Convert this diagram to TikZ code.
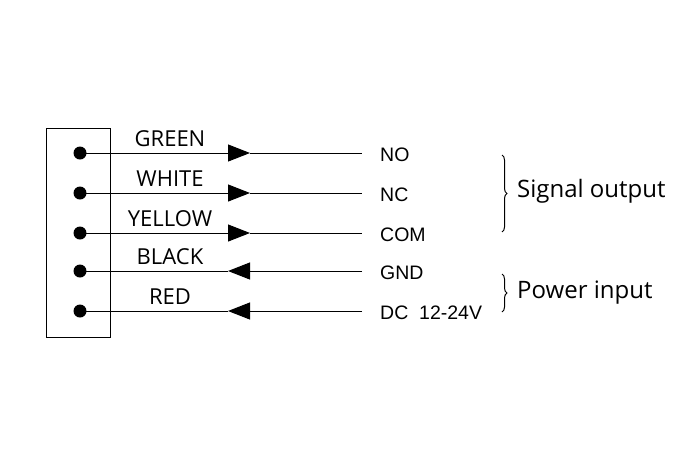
\documentclass[tikz,border=0pt]{standalone}
\usepackage{fontspec}
\setmainfont{Liberation Sans}
\newfontfamily\wirefont{Open Sans}
\usetikzlibrary{arrows.meta,decorations.pathreplacing}
\tikzset{
  pin/.style={circle,fill=black,inner sep=0pt,minimum size=13pt},
  wire/.style={line width=1pt},
  tip/.style={-{Triangle[length=22pt,width=17pt]}},
  colname/.style={font=\wirefont\fontsize{22}{22}\selectfont,anchor=base,inner sep=0pt},
  signame/.style={font=\fontsize{19.5}{19.5}\selectfont,anchor=west,inner sep=0pt},
  groupname/.style={font=\wirefont\fontsize{24}{24}\selectfont,anchor=west,inner sep=0pt}
}
\begin{document}
\begin{tikzpicture}[x=1pt,y=-1pt]
  \useasboundingbox (0,0) rectangle (700,467);
  % housing
  \draw[line width=1pt] (46,128) rectangle (110,337);
  % pins and wires
  \foreach \i/\y/\col/\sig in {1/153/GREEN/NO, 2/193/WHITE/NC, 3/233/YELLOW/COM, 4/271/BLACK/GND, 5/311/RED/{DC\ \ 12-24V}} {
    \node[pin] (p\i) at (80,\y) {};
    \coordinate (m\i) at (250,\y);
    \coordinate (n\i) at (228,\y);
    \coordinate (e\i) at (362,\y);
    \node[signame] (s\i) at (380,\y+2) {\sig};
    \node[colname] (c\i) at (170,\y-7) {\col};
  }
  \foreach \i in {1,2,3} {
    \draw[wire,tip] (p\i.center) -- (m\i);
    \draw[wire] (m\i) -- (e\i);
  }
  \foreach \i in {4,5} {
    \draw[wire,tip] (e\i) -- (n\i);
    \draw[wire] (n\i) -- (p\i.center);
  }
  % groups
  \draw[line width=1pt,decorate,decoration={brace,amplitude=5pt}] (502,155) -- (502,232);
  \node[groupname] (sigout) at (517,191) {Signal output};
  \draw[line width=1pt,decorate,decoration={brace,amplitude=5pt}] (502,274) -- (502,312);
  \node[groupname] (pwrin) at (517,293) {Power input};
\end{tikzpicture}
\end{document}
